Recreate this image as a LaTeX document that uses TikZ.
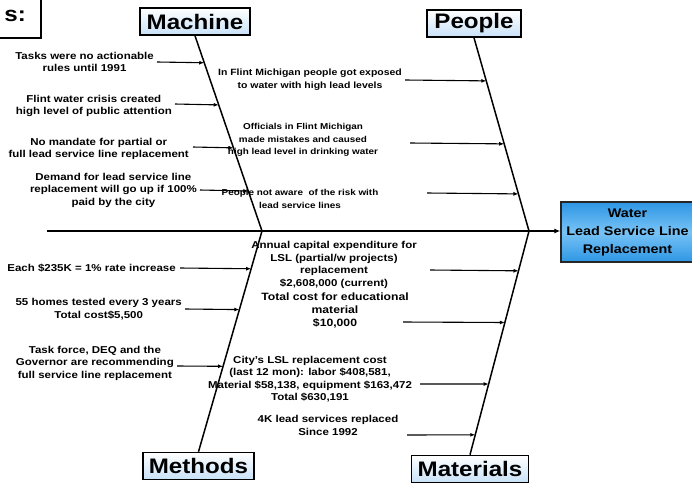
\documentclass[tikz,border=0pt]{standalone}
\usepackage{fontspec}
\setmainfont{Liberation Sans}[FakeStretch=1.15]
\usetikzlibrary{arrows.meta,calc,positioning}
\definecolor{catblue}{RGB}{200,225,248}
\definecolor{effectblue}{RGB}{45,150,228}
\definecolor{effectlight}{RGB}{120,195,245}

\begin{document}
\begin{tikzpicture}[x=1pt, y=-1pt,
    catbox/.style={draw=black, line width=1.6pt, top color=white, bottom color=catblue, font=\fontsize{21}{24}\selectfont\bfseries, inner xsep=6pt, inner ysep=1pt, minimum height=27pt},
    effectbox/.style={draw=black!85, line width=1.4pt, top color=effectblue, bottom color=effectblue, middle color=effectlight, font=\fontsize{12.5}{18}\selectfont\bfseries, align=center, minimum width=133pt, minimum height=60pt, inner sep=0pt},
    cause/.style={font=\fontsize{10}{12.5}\selectfont\bfseries, align=center, inner sep=0pt},
    causesmall/.style={cause, font=\fontsize{8.6}{12.5}\selectfont\bfseries},
    spine/.style={-{Latex[length=6pt,width=5pt]}, line width=2pt},
    bone/.style={line width=1.5pt},
    branch/.style={-{Latex[length=5pt,width=4pt]}, line width=1.1pt}
]
    \useasboundingbox (0,0) rectangle (692,485);
    \clip (0,0) rectangle (692,485);

    % Title box (cut off)
    \draw[line width=1.4pt, fill=white] (-10,-10) rectangle (41,38);
    \node[anchor=east, font=\fontsize{21}{24}\selectfont\bfseries, inner sep=0pt] (title) at (26,16) {s:};

    % Categories
    \node[catbox, minimum width=110pt] (machine) at (195,21.5) {Machine};
    \node[catbox, minimum width=94pt] (people) at (474,23.5) {People};
    \node[catbox, minimum width=107pt] (methods) at (198.5,466) {Methods};
    \node[catbox, minimum width=116pt] (materials) at (470,469) {Materials};

    % Effect
    \node[effectbox] (water) at (627.5,232) {Water\\Lead Service Line\\Replacement};

    % Spine and bones
    \coordinate (spinetail) at (47,231);
    \coordinate (j1) at (262,231);
    \coordinate (j2) at (529,231);
    \draw[spine] (spinetail) -- (water.west |- spinetail);
    \draw[bone] (machine.south) -- (j1);
    \draw[bone] (methods.north) -- (j1);
    \draw[bone] (people.south) -- (j2);
    \draw[bone] (materials.north) -- (j2);

    % Machine causes
    \coordinate (m1) at ($(machine.south)!0.138!(j1)$);
    \coordinate (m2) at ($(machine.south)!0.354!(j1)$);
    \coordinate (m3) at ($(machine.south)!0.574!(j1)$);
    \coordinate (m4) at ($(machine.south)!0.795!(j1)$);
    \coordinate (m1t) at (157,62);
    \coordinate (m2t) at (175,104);
    \coordinate (m3t) at (193,147);
    \coordinate (m4t) at (200,190);
    \node[cause, left=3pt of m1t] (m1txt) {Tasks were no actionable\\rules until 1991};
    \node[cause, left=3pt of m2t, yshift=-2pt] (m2txt) {Flint water crisis created\\high level of public attention};
    \node[cause, left=4pt of m3t, yshift=-2pt] (m3txt) {No mandate for partial or\\full lead service line replacement};
    \node[cause, left=3pt of m4t] (m4txt) {Demand for lead service line\\replacement will go up if 100\%\\paid by the city};
    \draw[branch] (m1t) -- (m1);
    \draw[branch] (m2t) -- (m2);
    \draw[branch] (m3t) -- (m3);
    \draw[branch] (m4t) -- (m4);

    % People causes
    \coordinate (p1) at ($(people.south)!0.223!(j2)$);
    \coordinate (p2) at ($(people.south)!0.549!(j2)$);
    \coordinate (p3) at ($(people.south)!0.808!(j2)$);
    \coordinate (p1t) at (405,80);
    \coordinate (p2t) at (410,143);
    \coordinate (p3t) at (427,193);
    \node[cause, font=\fontsize{9.1}{13}\selectfont\bfseries] (p1txt) at (310,80) {In Flint Michigan people got exposed\\to water with high lead levels};
    \node[causesmall] (p2txt) at (303,140) {Officials in Flint Michigan\\made mistakes and caused\\high lead level in drinking water};
    \node[causesmall] (p3txt) at (300,199) {People not aware\ \ of the risk with\\lead service lines};
    \draw[branch] (p1t) -- (p1);
    \draw[branch] (p2t) -- (p2);
    \draw[branch] (p3t) -- (p3);

    % Methods causes
    \coordinate (d1) at ($(j1)!0.171!(methods.north)$);
    \coordinate (d2) at ($(j1)!0.356!(methods.north)$);
    \coordinate (d3) at ($(j1)!0.613!(methods.north)$);
    \coordinate (d1t) at (180,268);
    \coordinate (d2t) at (185,309);
    \coordinate (d3t) at (177,366);
    \node[cause, left=4pt of d1t] (d1txt) {Each \$235K = 1\% rate increase};
    \node[cause, left=3pt of d2t] (d2txt) {55 homes tested every 3 years\\Total cost\$5,500};
    \node[cause, left=3pt of d3t, yshift=3pt] (d3txt) {Task force, DEQ and the\\Governor are recommending\\full service line replacement};
    \draw[branch] (d1t) -- (d1);
    \draw[branch] (d2t) -- (d2);
    \draw[branch] (d3t) -- (d3);

    % Materials causes
    \coordinate (t1) at ($(j2)!0.178!(materials.north)$);
    \coordinate (t2) at ($(j2)!0.409!(materials.north)$);
    \coordinate (t3) at ($(j2)!0.684!(materials.north)$);
    \coordinate (t4) at ($(j2)!0.911!(materials.north)$);
    \coordinate (t1t) at (430,270);
    \coordinate (t2t) at (403,322);
    \coordinate (t3t) at (420,384);
    \coordinate (t4t) at (407,435);
    \node[cause] (t1txt) at (334,265) {Annual capital expenditure for\\LSL (partial/w projects)\\replacement\\\$2,608,000 (current)};
    \node[cause, font=\fontsize{10.6}{13}\selectfont\bfseries] (t2txt) at (335,310) {Total cost for educational\\material\\\$10,000};
    \node[cause] (t3txt) at (310,379) {City's LSL replacement cost\\(last 12 mon): labor \$408,581,\\Material \$58,138, equipment \$163,472\\Total \$630,191};
    \node[cause] (t4txt) at (328,425.5) {4K lead services replaced\\Since 1992};
    \draw[branch] (t1t) -- (t1);
    \draw[branch] (t2t) -- (t2);
    \draw[branch] (t3t) -- (t3);
    \draw[branch] (t4t) -- (t4);

\end{tikzpicture}
\end{document}
